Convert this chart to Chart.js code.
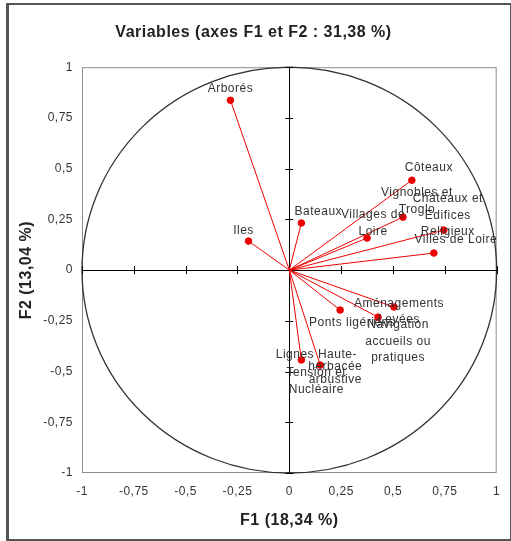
<!DOCTYPE html>
<html>
<head>
<meta charset="utf-8">
<script src="https://cdn.jsdelivr.net/npm/chart.js@4.4.0/dist/chart.umd.min.js"></script>
<style>
  html, body { margin: 0; padding: 0; background: #fff; }
  #frame { position: absolute; left: 6px; top: 3px; width: 501px; height: 534px; border: 2px solid #555; border-left-width: 3px; }
  #wrap { position: absolute; left: 0; top: 0; width: 511px; height: 541px; }
</style>
</head>
<body>
<div id="frame"></div>
<div id="wrap"><canvas id="chart" width="511" height="541"></canvas></div>
<script>
// variables de l'ACP (noms sur plusieurs lignes comme dans la figure)
const varNames = [
  ['Arborés'],
  ['Iles'],
  ['Bateaux'],
  ['Côteaux'],
  ['Vignobles et', 'Troglo'],
  ['Villages de', 'Loire'],
  ['Châteaux et', 'Edifices', 'Religieux'],
  ['Villes de Loire'],
  ['Aménagements', 'Levées'],
  ['Ponts ligériens'],
  ['Navigation', 'accueils ou', 'pratiques'],
  ['Lignes Haute-', 'Tension et', 'Nucléaire'],
  ['herbacée', 'arbustive']
];
// coordonnées sur F1 et F2
const f1Values = [-0.284, -0.197, 0.058, 0.591, 0.548, 0.375, 0.745, 0.697, 0.505, 0.245, 0.428, 0.058, 0.149];
const f2Values = [0.837, 0.143, 0.232, 0.443, 0.261, 0.158, 0.197, 0.084, -0.182, -0.197, -0.232, -0.443, -0.468];
// graduations des axes
const axisTicks = [-1, -0.75, -0.5, -0.25, 0, 0.25, 0.5, 0.75, 1];

// décalage des étiquettes (pixels) et interligne
const labelOffsets = [
  [0, -12], [-5, -10], [17, -11], [17, -13], [14, -24], [6, -23], [4, -31],
  [22, -13], [5, -3], [12, 13], [20, 8], [15, -5], [15, 2]
];
const lineGaps = [16, 16, 16, 16, 17, 17, 16.5, 16, 16, 16, 16.5, 17.5, 13];

const FONT = '"Liberation Sans", Arial, sans-serif';
const fmt = v => String(v).replace('.', ',');

// espacement des lettres comme dans la figure d'origine
const spacingPlugin = {
  id: 'spacingPlugin',
  beforeDraw(chart) { chart.ctx.letterSpacing = '0.5px'; }
};

// cercle, axes et vecteurs
const circlePlugin = {
  id: 'circlePlugin',
  beforeDatasetsDraw(chart) {
    const { ctx, chartArea, scales: { x, y } } = chart;
    const x0 = x.getPixelForValue(0);
    const y0 = y.getPixelForValue(0);
    ctx.save();
    // cadre
    ctx.strokeStyle = '#8c8c8c';
    ctx.lineWidth = 1;
    ctx.strokeRect(chartArea.left + 0.5, chartArea.top + 0.5, chartArea.width - 1, chartArea.height - 1);
    // cercle des corrélations
    ctx.strokeStyle = '#333';
    ctx.lineWidth = 1.3;
    ctx.beginPath();
    ctx.ellipse(x0, y0, x.getPixelForValue(1) - x0, y0 - y.getPixelForValue(1), 0, 0, Math.PI * 2);
    ctx.stroke();
    // axes passant par l'origine
    ctx.strokeStyle = '#000';
    ctx.lineWidth = 1;
    ctx.beginPath();
    ctx.moveTo(chartArea.left, Math.round(y0) + 0.5);
    ctx.lineTo(chartArea.right, Math.round(y0) + 0.5);
    ctx.moveTo(Math.round(x0) + 0.5, chartArea.top);
    ctx.lineTo(Math.round(x0) + 0.5, chartArea.bottom);
    x.ticks.forEach(t => {
      const px = Math.round(x.getPixelForValue(t.value)) + 0.5;
      ctx.moveTo(px, y0 - 4);
      ctx.lineTo(px, y0 + 4);
    });
    y.ticks.forEach(t => {
      const py = Math.round(y.getPixelForValue(t.value)) + 0.5;
      ctx.moveTo(x0 - 4, py);
      ctx.lineTo(x0 + 4, py);
    });
    ctx.stroke();
    // vecteurs
    ctx.strokeStyle = '#ee0000';
    ctx.lineWidth = 1;
    f1Values.forEach((v, i) => {
      ctx.beginPath();
      ctx.moveTo(x0, y0);
      ctx.lineTo(x.getPixelForValue(v), y.getPixelForValue(f2Values[i]));
      ctx.stroke();
    });
    ctx.restore();
  },
  afterDatasetsDraw(chart) {
    const { ctx, scales: { x, y } } = chart;
    ctx.save();
    ctx.font = '12px ' + FONT;
    ctx.letterSpacing = '0.5px';
    ctx.fillStyle = '#333';
    ctx.textAlign = 'center';
    ctx.textBaseline = 'middle';
    varNames.forEach((lines, i) => {
      const px = x.getPixelForValue(f1Values[i]) + labelOffsets[i][0];
      const py = y.getPixelForValue(f2Values[i]) + labelOffsets[i][1];
      lines.forEach((txt, k) => ctx.fillText(txt, px, py + k * lineGaps[i]));
    });
    ctx.restore();
  }
};

const points = f1Values.map((v, i) => ({ x: v, y: f2Values[i] }));

new Chart(document.getElementById('chart'), {
  type: 'scatter',
  data: {
    datasets: [{
      data: points,
      backgroundColor: '#ee0000',
      borderColor: '#ee0000',
      pointRadius: 3.3,
      pointHoverRadius: 3.3
    }]
  },
  options: {
    responsive: false,
    animation: false,
    events: [],
    layout: { padding: { left: 10, right: 14, top: 0, bottom: 8 } },
    plugins: {
      legend: { display: false },
      tooltip: { enabled: false },
      title: {
        display: true,
        text: 'Variables (axes F1 et F2 : 31,38 %)',
        color: '#222',
        font: { family: FONT, size: 16, weight: 'bold' },
        padding: { top: 23, bottom: 25 }
      }
    },
    scales: {
      x: {
        type: 'linear',
        min: -1, max: 1,
        grid: { display: false, drawTicks: false },
        border: { display: false },
        afterBuildTicks: s => { s.ticks = axisTicks.map(v => ({ value: v })); },
        afterFit: s => { s.height = 60; },
        ticks: {
          autoSkip: false, maxRotation: 0, padding: 11,
          color: '#333',
          font: { family: FONT, size: 12 },
          callback: v => fmt(v)
        },
        title: {
          display: true,
          text: 'F1 (18,34 %)',
          color: '#222',
          font: { family: FONT, size: 16, weight: 'bold' },
          padding: { top: 0, bottom: 3 }
        }
      },
      y: {
        type: 'linear',
        min: -1, max: 1,
        grid: { display: false, drawTicks: false },
        border: { display: false },
        afterBuildTicks: s => { s.ticks = axisTicks.map(v => ({ value: v })); },
        afterFit: s => { s.width = 72; },
        ticks: {
          autoSkip: false, padding: 9,
          color: '#333',
          font: { family: FONT, size: 12 },
          callback: v => fmt(v)
        },
        title: {
          display: true,
          text: 'F2 (13,04 %)',
          color: '#222',
          font: { family: FONT, size: 16, weight: 'bold' },
          padding: { top: 7, bottom: 0 }
        }
      }
    }
  },
  plugins: [spacingPlugin, circlePlugin]
});
</script>
</body>
</html>
